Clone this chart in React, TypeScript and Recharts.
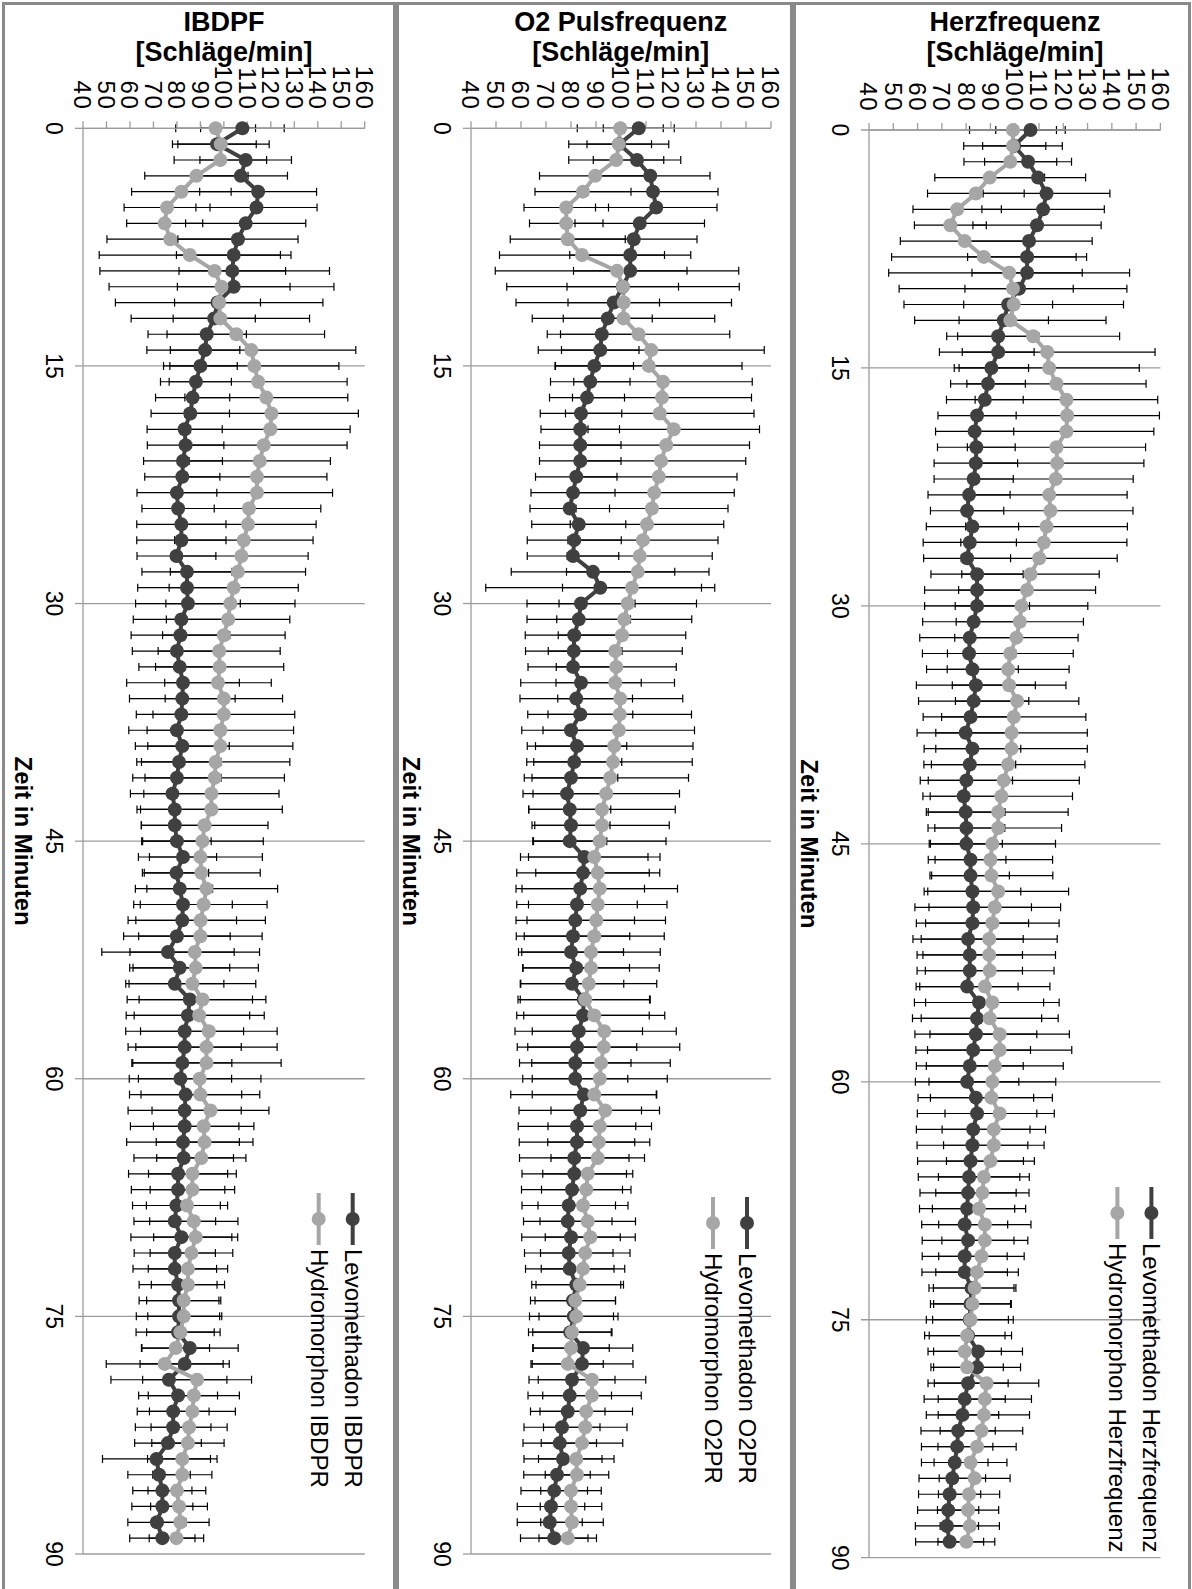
import { LineChart, Line, XAxis, YAxis, CartesianGrid, ErrorBar, Legend } from "recharts";

// minutes after start (one reading per minute)
const minutes = [
  0, 1, 2, 3, 4, 5, 6, 7, 8, 9, 10, 11, 12, 13, 14, 15, 16, 17, 18, 19,
  20, 21, 22, 23, 24, 25, 26, 27, 28, 29, 30, 31, 32, 33, 34, 35, 36, 37, 38, 39,
  40, 41, 42, 43, 44, 45, 46, 47, 48, 49, 50, 51, 52, 53, 54, 55, 56, 57, 58, 59,
  60, 61, 62, 63, 64, 65, 66, 67, 68, 69, 70, 71, 72, 73, 74, 75, 76, 77, 78, 79,
  80, 81, 82, 83, 84, 85, 86, 87, 88, 89,
];
const timeTicks = [0, 15, 30, 45, 60, 75, 90];
const valueTicks = [40, 50, 60, 70, 80, 90, 100, 110, 120, 130, 140, 150, 160];

// IBDPF
const ibdpfLevo = [
  107.9, 97.1, 109.3, 107.2, 114.6, 113.9, 109.3, 106.0, 104.2, 103.6,
  104.2, 97.3, 95.9, 92.7, 92.0, 90.0, 88.1, 86.7, 85.7, 83.3,
  83.7, 82.6, 82.3, 80.0, 80.5, 81.9, 81.9, 79.8, 84.3, 84.3,
  84.7, 81.9, 81.5, 80.0, 81.2, 82.6, 82.3, 81.9, 80.0, 82.3,
  80.9, 80.0, 78.1, 79.1, 79.1, 80.0, 82.6, 79.8, 81.2, 82.6,
  82.3, 80.0, 76.2, 81.2, 79.1, 85.5, 84.7, 83.3, 83.3, 82.3,
  81.5, 83.7, 83.3, 83.3, 82.6, 82.9, 80.5, 80.5, 79.8, 79.1,
  81.9, 79.1, 79.1, 80.5, 80.9, 80.9, 80.5, 85.5, 83.3, 76.6,
  80.5, 78.4, 78.4, 76.2, 71.3, 72.4, 73.8, 73.8, 71.5, 73.8,
];
const ibdpfLevoSd = [
  17.8, 16.7, 19.5, 19.9, 24.9, 25.8, 25.6, 25.6, 24.4, 22.7,
  24.0, 18.3, 17.5, 16.9, 14.8, 15.7, 15.1, 15.8, 16.7, 16.0,
  16.3, 16.8, 16.0, 17.0, 15.4, 19.0, 19.0, 16.8, 19.2, 21.0,
  22.3, 20.5, 21.0, 19.0, 17.4, 24.0, 22.5, 19.2, 20.5, 20.0,
  18.0, 18.8, 17.9, 16.1, 14.2, 14.6, 14.3, 13.7, 14.0, 21.0,
  23.1, 22.7, 28.2, 21.3, 20.9, 26.7, 26.3, 25.1, 24.1, 21.1,
  21.8, 23.9, 24.1, 23.1, 24.0, 21.2, 21.1, 19.9, 18.7, 17.4,
  21.5, 17.3, 17.8, 16.6, 17.0, 18.2, 17.9, 20.6, 19.0, 24.7,
  16.8, 15.3, 16.1, 14.2, 23.0, 13.3, 12.6, 13.0, 12.4, 13.9,
];
const ibdpfHydro = [
  96.5, 98.7, 98.5, 88.3, 81.9, 75.8, 74.8, 77.2, 85.5, 96.1,
  99.0, 98.0, 98.5, 105.3, 111.7, 113.0, 114.6, 118.1, 120.3, 119.8,
  117.0, 115.3, 114.1, 114.1, 110.7, 110.3, 108.5, 107.5, 106.0, 104.2,
  102.8, 101.8, 100.0, 98.0, 98.2, 97.5, 100.0, 100.0, 98.5, 98.5,
  96.5, 96.1, 94.7, 94.7, 91.8, 90.9, 90.0, 90.4, 92.6, 91.4,
  90.1, 90.0, 87.6, 88.0, 86.6, 90.9, 89.5, 93.6, 92.6, 92.6,
  89.7, 90.0, 94.3, 91.4, 91.8, 90.4, 86.6, 86.6, 84.3, 87.2,
  88.0, 86.2, 84.7, 84.7, 82.9, 82.9, 81.5, 79.5, 74.8, 88.6,
  87.2, 86.6, 85.2, 84.7, 82.3, 82.3, 80.0, 80.9, 81.5, 79.8,
];
const ibdpfHydroSd = [
  17.0, 20.6, 19.7, 22.0, 21.2, 18.3, 16.2, 27.0, 38.6, 48.9,
  47.9, 44.2, 38.0, 37.6, 44.5, 36.0, 37.9, 34.7, 37.0, 34.0,
  35.5, 30.1, 29.8, 32.2, 30.6, 29.0, 29.5, 28.4, 28.8, 27.5,
  27.5, 26.3, 26.1, 26.0, 27.3, 22.7, 25.0, 30.2, 31.2, 30.9,
  31.6, 29.7, 28.8, 30.2, 27.0, 25.9, 26.4, 25.1, 30.3, 27.0,
  27.6, 26.3, 27.6, 26.7, 27.0, 27.0, 27.7, 29.1, 30.1, 31.8,
  26.1, 25.3, 24.9, 21.4, 20.6, 19.0, 18.7, 18.0, 17.3, 18.8,
  17.9, 17.6, 16.9, 15.6, 15.8, 15.3, 14.4, 14.4, 24.9, 23.2,
  19.4, 18.3, 16.2, 15.4, 14.8, 12.6, 12.3, 12.1, 12.2, 11.6,
];

// O2 Pulsfrequenz
const o2Levo = [
  107.1, 99.3, 106.4, 111.7, 112.8, 114.1, 107.5, 105.1, 103.7, 103.7,
  100.7, 97.1, 94.7, 92.3, 91.7, 89.3, 87.7, 86.4, 84.0, 83.7,
  83.7, 83.7, 82.1, 80.8, 79.5, 83.1, 81.3, 80.8, 88.8, 91.7,
  84.0, 83.1, 81.3, 81.1, 80.8, 84.0, 82.1, 83.7, 80.0, 82.4,
  81.3, 80.0, 78.4, 79.5, 80.0, 79.5, 85.3, 84.8, 83.7, 82.4,
  81.7, 80.8, 80.0, 82.1, 80.4, 85.1, 84.8, 83.1, 82.4, 81.7,
  81.7, 85.1, 83.7, 82.4, 82.4, 81.3, 81.3, 80.4, 79.1, 78.7,
  80.0, 79.1, 79.5, 82.1, 80.8, 81.1, 79.7, 84.8, 84.4, 80.4,
  79.5, 78.7, 76.4, 75.5, 76.8, 74.4, 73.3, 72.0, 71.5, 73.3,
];
const o2LevoSd = [
  14.2, 12.9, 17.5, 23.9, 26.0, 24.3, 25.9, 25.3, 24.2, 22.7,
  22.3, 18.3, 17.8, 16.5, 15.5, 15.7, 15.9, 15.0, 16.3, 15.7,
  16.3, 16.3, 16.3, 16.8, 15.9, 18.8, 18.8, 18.3, 32.7, 45.8,
  21.6, 20.7, 19.6, 19.3, 18.0, 24.1, 22.5, 21.0, 19.7, 19.9,
  19.0, 18.7, 17.6, 16.4, 15.6, 14.8, 25.5, 26.5, 25.7, 24.1,
  23.7, 22.7, 21.0, 21.3, 20.7, 26.3, 26.5, 25.5, 23.9, 22.3,
  21.0, 29.2, 24.5, 23.5, 23.1, 21.9, 20.9, 20.2, 18.7, 17.7,
  19.7, 17.7, 17.7, 17.8, 17.0, 17.7, 16.7, 19.9, 20.4, 17.2,
  16.7, 14.9, 15.2, 14.7, 15.6, 13.3, 13.3, 13.5, 13.0, 13.5,
];
const o2Hydro = [
  99.7, 99.1, 98.1, 89.7, 84.8, 78.1, 78.1, 78.7, 84.4, 98.4,
  100.8, 101.1, 101.0, 107.0, 112.1, 111.1, 116.8, 116.4, 115.5, 121.1,
  118.1, 116.0, 115.1, 113.3, 112.4, 110.4, 108.8, 107.5, 106.7, 104.4,
  102.7, 101.3, 100.4, 97.7, 98.1, 97.7, 99.7, 99.5, 99.1, 97.3,
  96.8, 95.7, 94.1, 92.4, 92.4, 91.5, 89.3, 90.7, 91.5, 90.7,
  90.1, 89.3, 88.0, 88.0, 87.1, 85.7, 89.3, 93.3, 93.1, 92.0,
  91.5, 89.3, 93.7, 91.5, 91.1, 90.7, 86.7, 86.1, 84.8, 86.7,
  87.7, 85.7, 84.8, 83.5, 81.7, 82.1, 80.4, 80.0, 78.7, 88.4,
  88.4, 86.1, 85.7, 84.4, 82.1, 82.4, 80.0, 80.0, 80.4, 78.7,
];
const o2HydroSd = [
  17.2, 20.0, 19.0, 22.3, 19.2, 16.9, 14.7, 23.0, 33.0, 48.7,
  46.5, 43.1, 36.5, 36.5, 45.2, 37.3, 35.7, 35.8, 37.7, 34.3,
  33.3, 33.9, 31.3, 32.0, 30.4, 30.7, 30.0, 29.0, 28.5, 27.8,
  27.5, 27.0, 25.5, 26.8, 24.0, 23.7, 25.0, 28.7, 30.3, 31.5,
  31.7, 31.3, 29.3, 29.3, 26.9, 26.5, 26.3, 24.8, 31.1, 27.7,
  27.7, 28.0, 27.7, 27.3, 27.2, 26.0, 28.2, 28.8, 30.4, 27.7,
  27.0, 24.8, 21.7, 20.7, 20.4, 18.7, 18.0, 17.9, 18.0, 19.1,
  18.0, 17.9, 16.7, 17.5, 16.1, 14.9, 15.7, 15.3, 14.2, 21.5,
  19.7, 18.5, 16.7, 16.3, 15.1, 12.7, 12.1, 12.3, 12.5, 11.5,
];

// Herzfrequenz
const hfLevo = [
  106.5, 99.8, 105.5, 109.6, 113.1, 111.7, 109.2, 105.9, 105.1, 105.1,
  101.8, 97.3, 95.5, 93.2, 93.2, 90.4, 89.0, 87.7, 84.5, 83.5,
  84.2, 84.0, 83.1, 81.2, 80.4, 82.6, 81.5, 80.4, 84.5, 84.5,
  84.5, 83.1, 81.5, 81.2, 82.6, 84.0, 83.1, 81.8, 79.8, 82.6,
  81.5, 80.1, 79.0, 79.8, 80.1, 80.1, 81.8, 81.8, 82.6, 82.9,
  82.6, 80.8, 81.5, 81.5, 80.4, 85.3, 84.5, 84.0, 82.9, 81.5,
  80.4, 84.0, 84.5, 82.9, 82.6, 81.8, 81.2, 80.8, 80.4, 79.4,
  80.8, 79.4, 79.4, 82.2, 81.8, 81.5, 80.8, 84.9, 84.5, 80.8,
  79.4, 78.5, 76.7, 76.3, 75.3, 74.3, 73.2, 72.6, 72.1, 73.2,
];
const hfLevoSd = [
  14.3, 13.0, 17.9, 19.6, 26.1, 25.2, 26.4, 26.0, 24.5, 22.7,
  22.3, 18.3, 18.4, 16.7, 14.8, 15.3, 15.4, 15.8, 16.1, 16.1,
  16.0, 17.2, 16.3, 16.9, 15.1, 19.0, 19.2, 17.9, 19.0, 21.6,
  21.6, 21.0, 20.6, 19.2, 18.9, 24.5, 22.7, 19.5, 20.0, 19.9,
  18.9, 19.0, 16.8, 16.2, 15.8, 14.8, 14.6, 16.0, 19.9, 24.0,
  23.1, 22.7, 21.7, 21.7, 21.0, 26.6, 26.6, 25.1, 23.6, 22.0,
  21.3, 23.8, 24.6, 23.4, 22.8, 21.8, 20.9, 19.8, 19.6, 17.7,
  18.9, 17.5, 17.6, 17.5, 16.5, 17.9, 17.9, 18.3, 17.9, 16.5,
  16.7, 14.9, 15.3, 14.7, 13.7, 13.7, 12.8, 12.6, 13.0, 14.0,
];
const hfHydro = [
  99.3, 99.3, 98.2, 89.7, 84.0, 76.3, 73.5, 79.4, 87.3, 97.7,
  99.3, 99.6, 98.2, 107.6, 113.4, 114.2, 117.2, 121.3, 121.6, 121.3,
  117.2, 117.5, 116.9, 114.2, 114.7, 113.1, 112.0, 110.1, 106.5, 105.1,
  102.8, 102.1, 100.7, 98.2, 97.3, 97.7, 101.0, 99.6, 98.7, 98.7,
  97.3, 95.5, 94.5, 93.2, 93.2, 90.8, 90.0, 90.4, 93.2, 91.8,
  90.8, 89.5, 89.5, 89.7, 87.7, 90.8, 89.7, 93.8, 93.8, 91.8,
  90.8, 90.4, 93.8, 91.4, 91.4, 90.0, 87.3, 86.7, 85.3, 87.7,
  87.7, 86.3, 84.5, 83.5, 82.6, 81.8, 80.4, 79.4, 80.4, 88.4,
  87.7, 87.3, 86.3, 84.5, 81.8, 83.5, 81.2, 80.8, 81.5, 80.1,
];
const hfHydroSd = [
  17.9, 20.3, 19.1, 22.6, 19.9, 18.2, 14.8, 26.5, 38.0, 49.6,
  46.9, 45.2, 39.4, 35.6, 44.4, 37.1, 36.9, 37.6, 38.0, 36.0,
  36.7, 35.7, 31.9, 32.1, 34.0, 33.3, 34.2, 32.1, 28.3, 28.2,
  27.3, 26.2, 25.4, 25.9, 25.1, 23.4, 25.4, 29.7, 31.2, 31.2,
  31.6, 31.1, 29.3, 28.8, 26.1, 26.0, 25.6, 25.3, 29.0, 27.1,
  27.5, 28.0, 27.3, 26.5, 26.8, 27.5, 28.2, 28.7, 29.7, 28.2,
  26.1, 25.1, 22.5, 21.3, 20.7, 18.1, 18.7, 19.2, 19.2, 19.0,
  17.7, 17.6, 17.0, 17.0, 16.0, 15.6, 15.6, 15.1, 14.9, 21.5,
  19.2, 18.8, 17.0, 16.1, 15.0, 14.6, 12.6, 12.6, 12.2, 11.7,
];

const DARK = "#404040";
const LIGHT = "#a6a6a6";
const GRID = "#9c9c9c";
const FRAME = "#8a8a8a";
const FONT = '"Liberation Sans", Arial, sans-serif';
const seriesOrder = ["levo", "hydro"];

interface Row {
  t: number;
  levo: number;
  levoSd: number;
  hydro: number;
  hydroSd: number;
}

const makeRows = (levo: number[], levoSd: number[], hydro: number[], hydroSd: number[]): Row[] =>
  minutes.map((t, i) => ({ t, levo: levo[i], levoSd: levoSd[i], hydro: hydro[i], hydroSd: hydroSd[i] }));

interface PanelProps {
  rows: Row[];
  levoName: string;
  hydroName: string;
  left: number; // page x of the rotated box
  plotH: number; // width of the value range on the page
  axisW: number;
  rightM: number;
  legendTop: number;
  legendLeft: number;
}

const LegendBox = (props: any) => {
  const items = [...(props.payload || [])].sort(
    (a: any, b: any) => seriesOrder.indexOf(a.dataKey) - seriesOrder.indexOf(b.dataKey)
  );
  return (
    <div style={{ fontSize: 24, fontFamily: FONT, color: "#000", whiteSpace: "nowrap" }}>
      {items.map((it: any) => (
        <div key={it.value} style={{ display: "flex", alignItems: "center", height: 34 }}>
          <svg width={52} height={16} style={{ display: "block" }}>
            <line x1={0} y1={8} x2={52} y2={8} stroke={it.color} strokeWidth={4} />
            <circle cx={26} cy={8} r={7} fill={it.color} />
          </svg>
          <span style={{ marginLeft: 4 }}>{it.value}</span>
        </div>
      ))}
    </div>
  );
};

// chart drawn with time running left to right, then turned a quarter clockwise
const Panel = (p: PanelProps) => {
  const ch = p.plotH + 120;
  return (
    <div
      style={{
        position: "absolute",
        left: p.left,
        top: 0,
        width: 1589,
        height: ch,
        transform: `translate(${ch}px, 0px) rotate(90deg)`,
        transformOrigin: "0 0",
      }}
    >
      <LineChart width={1589} height={ch} data={p.rows} margin={{ top: 30, right: p.rightM, bottom: 0, left: 0 }}>
        <CartesianGrid vertical horizontal={false} stroke={GRID} strokeWidth={1.3} />
        <XAxis
          dataKey="t"
          type="number"
          domain={[0, 90]}
          ticks={timeTicks}
          interval={0}
          height={90}
          stroke={GRID}
          strokeWidth={1.3}
          tickSize={8}
          tickMargin={13}
          tick={{ fill: "#000", fontSize: 23 }}
          label={{
            content: (lp: any) => {
              const vb = lp.viewBox || { x: 0, y: 0, width: 0 };
              return (
                <text
                  x={vb.x + vb.width / 2}
                  y={vb.y + 60}
                  textAnchor="middle"
                  dominantBaseline="central"
                  fontSize={24}
                  fontWeight="bold"
                  fill="#000"
                >
                  Zeit in Minuten
                </text>
              );
            },
          }}
        />
        <YAxis
          type="number"
          domain={[40, 160]}
          ticks={valueTicks}
          interval={0}
          allowDataOverflow
          width={p.axisW}
          stroke={GRID}
          strokeWidth={1.3}
          tickSize={7}
          tickMargin={11}
          tick={{ fill: "#000", fontSize: 24, letterSpacing: 1.5 }}
        />
        <Legend
          layout="vertical"
          align="center"
          verticalAlign="middle"
          content={<LegendBox />}
          wrapperStyle={{ left: p.legendLeft, top: p.legendTop, width: "auto" }}
        />
        <Line
          dataKey="levo"
          name={p.levoName}
          stroke={DARK}
          strokeWidth={4}
          dot={{ r: 7, fill: DARK, stroke: DARK, strokeWidth: 0 }}
          activeDot={false}
          isAnimationActive={false}
        >
          <ErrorBar dataKey="levoSd" direction="y" width={4} stroke="#000" strokeWidth={1.2} isAnimationActive={false} />
        </Line>
        <Line
          dataKey="hydro"
          name={p.hydroName}
          stroke={LIGHT}
          strokeWidth={4}
          dot={{ r: 7, fill: LIGHT, stroke: LIGHT, strokeWidth: 0 }}
          activeDot={false}
          isAnimationActive={false}
        >
          <ErrorBar dataKey="hydroSd" direction="y" width={4} stroke="#000" strokeWidth={1.2} isAnimationActive={false} />
        </Line>
      </LineChart>
    </div>
  );
};

const Title = ({ center, lines }: { center: number; lines: string[] }) => (
  <div
    style={{
      position: "absolute",
      left: center - 170,
      top: 7,
      width: 340,
      textAlign: "center",
      fontFamily: FONT,
      fontWeight: "bold",
      fontSize: 27,
      lineHeight: "30px",
      color: "#000",
    }}
  >
    {lines.map((l) => (
      <div key={l}>{l}</div>
    ))}
  </div>
);

const Frame = ({ left, width }: { left: number; width: number }) => (
  <div
    style={{
      position: "absolute",
      left,
      top: 2,
      width,
      height: 1600,
      border: `3px solid ${FRAME}`,
      boxSizing: "border-box",
    }}
  />
);

export default function App() {
  return (
    <div
      style={{
        position: "absolute",
        left: 0,
        top: 0,
        width: 1192,
        height: 1589,
        overflow: "hidden",
        background: "#fff",
        fontFamily: FONT,
      }}
    >
      <Frame left={2} width={394} />
      <Frame left={396} width={397} />
      <Frame left={793} width={398} />

      <Title center={224} lines={["IBDPF", "[Schläge/min]"]} />
      <Title center={620.7} lines={["O2 Pulsfrequenz", "[Schläge/min]"]} />
      <Title center={1015} lines={["Herzfrequenz", "[Schläge/min]"]} />

      <Panel
        rows={makeRows(ibdpfLevo, ibdpfLevoSd, ibdpfHydro, ibdpfHydroSd)}
        levoName="Levomethadon IBDPR"
        hydroName="Hydromorphon IBDPR"
        left={-6.7}
        plotH={281.7}
        axisW={128.3}
        rightM={35}
        legendTop={25}
        legendLeft={1193}
      />
      <Panel
        rows={makeRows(o2Levo, o2LevoSd, o2Hydro, o2HydroSd)}
        levoName="Levomethadon O2PR"
        hydroName="Hydromorphon O2PR"
        left={380.7}
        plotH={300}
        axisW={128.3}
        rightM={35}
        legendTop={36.7}
        legendLeft={1197}
      />
      <Panel
        rows={makeRows(hfLevo, hfLevoSd, hfHydro, hfHydroSd)}
        levoName="Levomethadon Herzfrequenz"
        hydroName="Hydromorphon Herzfrequenz"
        left={779.3}
        plotH={291.4}
        axisW={130}
        rightM={31.3}
        legendTop={21.7}
        legendLeft={1187}
      />
    </div>
  );
}
